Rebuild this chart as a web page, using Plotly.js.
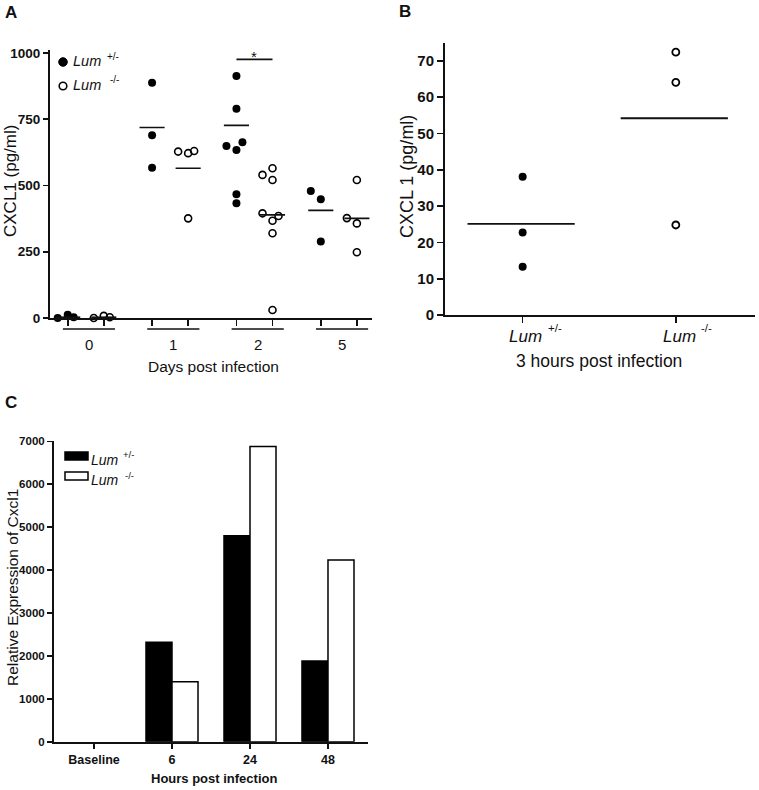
<!DOCTYPE html>
<html><head><meta charset="utf-8">
<script src="https://cdn.plot.ly/plotly-3.0.1.min.js"></script>
<style>html,body{margin:0;padding:0;background:#fff}#chart{width:759px;height:790px}</style>
</head><body><div id="chart"></div>
<script>
// ---------- Panel A data (CXCL1 pg/ml by day) ----------
const daysA = ['0', '1', '2', '5'];
const hetA = [[12, 0, 3], [888, 690, 567], [634, 649, 663, 913, 790, 467, 433], [448, 479, 289]];
const koA = [[8, 0, 3], [622, 628, 630, 376], [565, 540, 521, 367, 395, 385, 320, 30], [357, 377, 521, 248]];
const hetAMean = [3, 719, 727, 406];
const koAMean = [3, 565, 389, 376];
const sigA = 976;
const yTicksA = [0, 250, 500, 750, 1000];
// ---------- Panel B data (3 h post infection) ----------
const genoB = ['+/-', '-/-'];
const hetB = [38.1, 22.7, 13.3];
const koB = [72.4, 64.1, 24.8];
const meanB = [25.1, 54.2];
const yTicksB = [0, 10, 20, 30, 40, 50, 60, 70];
// ---------- Panel C data (relative expression) ----------
const hoursC = ['Baseline', '6', '24', '48'];
const hetC = [0, 2320, 4800, 1880];
const koC = [0, 1400, 6880, 4235];
const yTicksC = [0, 1000, 2000, 3000, 4000, 5000, 6000, 7000];

// ---------- helpers ----------
const W = 759, H = 790;
const FONT = 'Liberation Sans, Arial, sans-serif';
const INK = '#111';
const px = x => x / W, py = y => 1 - y / H;

// Panel A scales (pixels per unit)
const A_PXX = 32.2, A_PXY = 0.265;
const posA = (g, k) => 0.55 + g * 2.62 + k * 1.12;

function swarm(vals, pxy, diam, cands) {
  const placed = [];
  return vals.map(v => {
    let best = cands[0], bestD = -1;
    for (const c of cands) {
      const d = placed.length ? Math.min(...placed.map(p => Math.hypot(p.dx - c, (p.v - v) * pxy))) : Infinity;
      if (d >= diam) { best = c; bestD = d; break; }
      if (d > bestD) { bestD = d; best = c; }
    }
    placed.push({dx: best, v});
    return best;
  });
}
const CANDS = [0, -10, 6];

function buildA(data, k) {
  const xs = [], ys = [];
  data.forEach((vals, g) => {
    const offs = swarm(vals, A_PXY, 9, CANDS);
    vals.forEach((v, i) => { xs.push(posA(g, k) + offs[i] / A_PXX); ys.push(v); });
  });
  return {xs, ys};
}
const aHet = buildA(hetA, 0), aKo = buildA(koA, 1);

const traces = [
  {type: 'scatter', mode: 'markers', x: aHet.xs, y: aHet.ys, xaxis: 'x', yaxis: 'y', cliponaxis: false,
   marker: {symbol: 'circle', size: 8, color: '#000'}, showlegend: false, hoverinfo: 'skip'},
  {type: 'scatter', mode: 'markers', x: aKo.xs, y: aKo.ys, xaxis: 'x', yaxis: 'y', cliponaxis: false,
   marker: {symbol: 'circle-open', size: 7, color: '#000', line: {width: 1.6, color: '#000'}}, showlegend: false, hoverinfo: 'skip'},
  {type: 'scatter', mode: 'markers', x: hetB.map(() => 0), y: hetB, xaxis: 'x2', yaxis: 'y2', cliponaxis: false,
   marker: {symbol: 'circle', size: 8, color: '#000'}, showlegend: false, hoverinfo: 'skip'},
  {type: 'scatter', mode: 'markers', x: koB.map(() => 1), y: koB, xaxis: 'x2', yaxis: 'y2', cliponaxis: false,
   marker: {symbol: 'circle-open', size: 7, color: '#000', line: {width: 1.8, color: '#000'}}, showlegend: false, hoverinfo: 'skip'},
  {type: 'bar', x: hoursC.map((_, i) => i), y: hetC, xaxis: 'x3', yaxis: 'y3',
   marker: {color: '#000', line: {color: '#000', width: hetC.map(v => v > 0 ? 1.5 : 0)}}, showlegend: false, hoverinfo: 'skip'},
  {type: 'bar', x: hoursC.map((_, i) => i), y: koC, xaxis: 'x3', yaxis: 'y3',
   marker: {color: '#fff', line: {color: '#000', width: koC.map(v => v > 0 ? 1.5 : 0)}}, showlegend: false, hoverinfo: 'skip'}
];

const shapes = [];
const line = (x0, x1, y0, y1, xref, yref, w) => shapes.push({type: 'line', x0, x1, y0, y1, xref, yref, line: {color: INK, width: w || 1.6}});
// mean lines A
hetAMean.forEach((m, g) => line(posA(g, 0) - 0.39, posA(g, 0) + 0.39, m, m, 'x', 'y'));
koAMean.forEach((m, g) => line(posA(g, 1) - 0.39, posA(g, 1) + 0.39, m, m, 'x', 'y'));
// significance bar
line(posA(2, 0), posA(2, 1), sigA, sigA, 'x', 'y');
// group underlines
daysA.forEach((d, g) => line(posA(g, 0) - 0.15, posA(g, 1) + 0.35, py(329), py(329), 'x', 'paper', 1.6));
// mean lines B
meanB.forEach((m, i) => line(i - 0.36, i + 0.34, m, m, 'x2', 'y2', 1.8));
// legend A markers
shapes.push({type: 'circle', xref: 'paper', yref: 'paper', xsizemode: 'pixel', ysizemode: 'pixel',
  xanchor: px(63), yanchor: py(62), x0: -4.3, x1: 4.3, y0: -4.3, y1: 4.3, fillcolor: '#000', line: {color: '#000', width: 1}});
shapes.push({type: 'circle', xref: 'paper', yref: 'paper', xsizemode: 'pixel', ysizemode: 'pixel',
  xanchor: px(63), yanchor: py(86), x0: -3.8, x1: 3.8, y0: -3.8, y1: 3.8, fillcolor: '#fff', line: {color: '#000', width: 1.6}});
// legend C boxes
shapes.push({type: 'rect', xref: 'paper', yref: 'paper', x0: px(65), x1: px(88), y0: py(460), y1: py(452), fillcolor: '#000', line: {color: '#000', width: 1.5}});
shapes.push({type: 'rect', xref: 'paper', yref: 'paper', x0: px(65), x1: px(88), y0: py(480), y1: py(472), fillcolor: '#fff', line: {color: '#000', width: 1.5}});
// extend panel A x-axis line slightly left of the y-axis
shapes.push({type: 'line', xref: 'paper', yref: 'paper', x0: px(46), x1: px(50), y0: py(318), y1: py(318), line: {color: INK, width: 2}});

const ann = [];
const txt = (text, x, y, size, opts, fontExtra) => ann.push(Object.assign({text, x: px(x), y: py(y), xref: 'paper', yref: 'paper',
  showarrow: false, font: Object.assign({family: FONT, size, color: INK}, fontExtra || {}), xanchor: 'center', yanchor: 'middle'}, opts || {}));
const IT = {style: 'italic'}, BD = {weight: 'bold'};
// panel letters
txt('A', 11, 13, 17, null, BD);
txt('B', 405, 12, 17, null, BD);
txt('C', 11, 402, 17, null, BD);
// Panel A texts
txt('CXCL1 (pg/ml)', 10, 181, 17, {textangle: -90});
txt('Days post infection', 213, 366, 15.5);
daysA.forEach((d, g) => ann.push({text: d, x: (posA(g, 0) - 0.15 + posA(g, 1) + 0.35) / 2, xref: 'x', y: py(344), yref: 'paper',
  showarrow: false, font: {family: FONT, size: 15, color: INK}, xanchor: 'center', yanchor: 'middle'}));
ann.push({text: '*', x: (posA(2, 0) + posA(2, 1)) / 2, xref: 'x', y: py(57), yref: 'paper', showarrow: false,
  font: {family: FONT, size: 15, color: INK}, xanchor: 'center', yanchor: 'middle'});
txt('Lum', 71, 61, 14.5, {xanchor: 'left'}, IT);
txt('+/-', 105, 56, 10, {xanchor: 'left'});
txt('Lum', 71, 85, 14.5, {xanchor: 'left'}, IT);
txt('-/-', 108, 80, 10, {xanchor: 'left'});
// Panel B texts
txt('CXCL 1 (pg/ml)', 407, 177, 18, {textangle: -90});
txt('3 hours post infection', 599, 361, 17.5);
const bLumX = [507, 661], bSupX = [546, 699];
genoB.forEach((gt, i) => {
  txt('Lum', bLumX[i], 336, 17, {xanchor: 'left'}, IT);
  txt(gt, bSupX[i], 328, 11.5, {xanchor: 'left'});
});
// Panel C texts
txt('Relative Expression of Cxcl1', 12, 588, 15.5, {textangle: -90});
txt('Hours post infection', 214, 778, 13, null, BD);
txt('Lum', 89, 460, 14, {xanchor: 'left'}, IT);
txt('+/-', 121, 455, 9.5, {xanchor: 'left'});
txt('Lum', 89, 480, 14, {xanchor: 'left'}, IT);
txt('-/-', 123, 475, 9.5, {xanchor: 'left'});

const axBase = {showline: true, linecolor: INK, linewidth: 2, showgrid: false, zeroline: false,
  ticks: 'outside', tickcolor: INK, tickwidth: 1.6, fixedrange: true};

const layout = {
  width: W, height: H, margin: {l: 0, r: 0, t: 0, b: 0}, paper_bgcolor: '#fff', plot_bgcolor: 'rgba(0,0,0,0)',
  showlegend: false, barmode: 'group', bargap: 0.333, bargroupgap: 0,
  font: {family: FONT, color: INK},
  xaxis: Object.assign({}, axBase, {domain: [px(50), px(372)], range: [0, 10], anchor: 'y',
    tickvals: daysA.flatMap((d, g) => [posA(g, 0), posA(g, 1)]), ticklen: 6, showticklabels: false}),
  yaxis: Object.assign({}, axBase, {domain: [py(318), py(50.35)], range: [0, 1010], anchor: 'x',
    tickvals: yTicksA, ticklen: 5, tickfont: {family: FONT, size: 13.5, weight: 'bold', color: INK}}),
  xaxis2: Object.assign({}, axBase, {domain: [px(445), px(755)], range: [-0.507, 1.517], anchor: 'y2',
    tickvals: [0, 1], ticklen: 6, showticklabels: false}),
  yaxis2: Object.assign({}, axBase, {domain: [py(315), py(42.75)], range: [0, 75], anchor: 'x2',
    tickvals: yTicksB, ticklen: 6, tickfont: {family: FONT, size: 15, weight: 'bold', color: INK}}),
  xaxis3: Object.assign({}, axBase, {domain: [px(54), px(368)], range: [-0.513, 3.513], anchor: 'y3',
    tickvals: hoursC.map((_, i) => i), ticktext: hoursC, ticklen: 5,
    tickfont: {family: FONT, size: 12.5, weight: 'bold', color: INK}}),
  yaxis3: Object.assign({}, axBase, {domain: [py(741.7), py(441.4)], range: [0, 7000], anchor: 'x3',
    tickvals: yTicksC, ticklen: 5, tickfont: {family: FONT, size: 11.5, weight: 'bold', color: INK}}),
  shapes, annotations: ann
};

Plotly.newPlot('chart', traces, layout, {staticPlot: true, displayModeBar: false});
</script></body></html>
